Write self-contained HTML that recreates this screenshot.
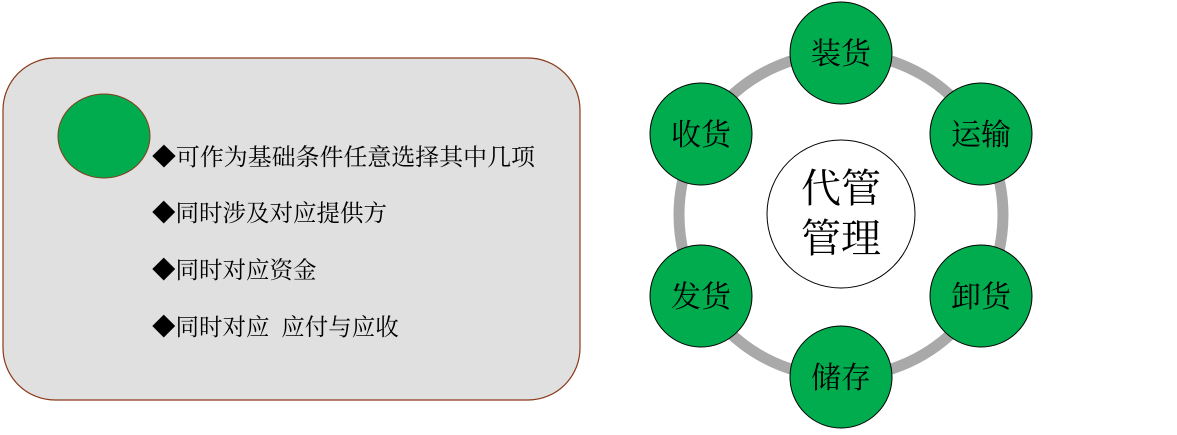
<!DOCTYPE html>
<html><head><meta charset="utf-8"><style>
body{margin:0;background:#fff;width:1177px;height:430px;overflow:hidden}
svg text{font-family:"Liberation Serif","Noto Serif CJK SC",serif;fill:#000}
</style></head><body>
<svg width="1177" height="430" viewBox="0 0 1177 430">
<rect x="3" y="58" width="577" height="342" rx="52" ry="52" fill="#e0e0e0" stroke="#8b3a1a" stroke-width="1.2"/>
<ellipse cx="104" cy="136" rx="46" ry="42" fill="#00ac4e" stroke="#8b3a1a" stroke-width="1"/>
<g font-size="23.5">
<text x="152" y="165" textLength="383" lengthAdjust="spacingAndGlyphs">◆可作为基础条件任意选择其中几项</text>
<text x="152" y="221">◆同时涉及对应提供方</text>
<text x="152" y="278">◆同时对应资金</text>
<text x="152" y="335">◆同时对应&#160;&#160;应付与应收</text>
</g>
<circle cx="841" cy="215" r="162" fill="none" stroke="#a9a9a9" stroke-width="11"/>
<circle cx="841" cy="214" r="74" fill="#fff" stroke="#000" stroke-width="1"/>
<text x="841" y="202" font-size="40" text-anchor="middle">代管</text>
<text x="841" y="252" font-size="40" text-anchor="middle">管理</text>
<g fill="#00ac4e" stroke="#000" stroke-width="1">
<circle cx="841" cy="53" r="51"/>
<circle cx="981" cy="134" r="51"/>
<circle cx="981" cy="296" r="51"/>
<circle cx="841" cy="377" r="51"/>
<circle cx="701" cy="296" r="51"/>
<circle cx="701" cy="134" r="51"/>
</g>
<g font-size="30" text-anchor="middle">
<text x="841" y="64">装货</text>
<text x="981" y="145">运输</text>
<text x="981" y="307">卸货</text>
<text x="841" y="388">储存</text>
<text x="701" y="307">发货</text>
<text x="701" y="145">收货</text>
</g>
</svg>
</body></html>
